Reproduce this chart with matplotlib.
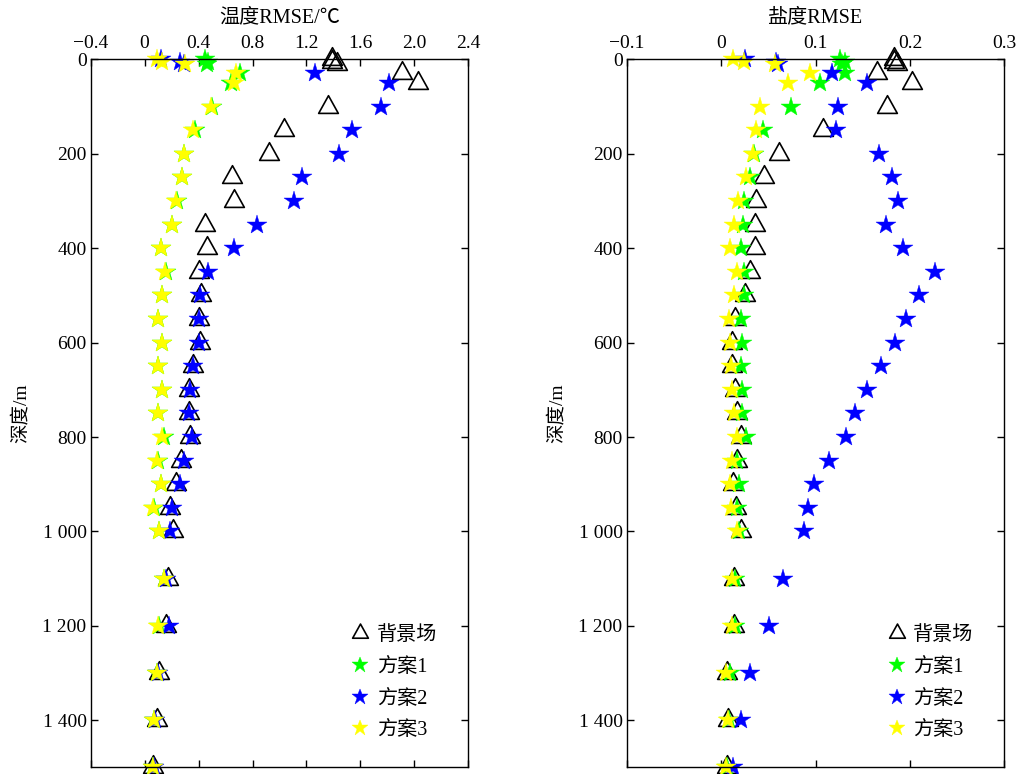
import numpy as np
import matplotlib
matplotlib.use('Agg')
import matplotlib.pyplot as plt
from matplotlib.path import Path
from matplotlib.ticker import FuncFormatter

plt.rcParams['font.family'] = ['Liberation Serif', 'Noto Sans CJK SC', 'DejaVu Sans']
plt.rcParams['axes.unicode_minus'] = True

# depth levels (m)
depth = [0, 5, 10, 30, 50, 100, 150, 200, 250, 300, 350, 400, 450, 500, 550,
         600, 650, 700, 750, 800, 850, 900, 950, 1000, 1100, 1200, 1300, 1400, 1500]

# temperature RMSE
t_bg = [1.39, 1.39, 1.43, 1.91, 2.03, 1.36, 1.03, 0.92, 0.65, 0.66, 0.45, 0.46, 0.40, 0.42, 0.40,
        0.41, 0.36, 0.33, 0.33, 0.34, 0.27, 0.23, 0.19, 0.21, 0.17, 0.16, 0.11, 0.09, 0.06]
t_s1 = [0.45, 0.47, 0.46, 0.71, 0.64, 0.50, 0.37, 0.29, 0.28, 0.24, 0.20, 0.12, 0.16, 0.13, 0.10,
        0.13, 0.10, 0.13, 0.10, 0.14, 0.10, 0.12, 0.07, 0.11, 0.14, 0.11, 0.09, 0.07, 0.06]
t_s2 = [0.12, 0.26, 0.29, 1.26, 1.81, 1.75, 1.54, 1.44, 1.17, 1.11, 0.83, 0.66, 0.47, 0.41, 0.40,
        0.40, 0.36, 0.34, 0.33, 0.35, 0.29, 0.26, 0.20, 0.19, 0.16, 0.18, 0.10, 0.08, 0.07]
t_s3 = [0.09, 0.13, 0.30, 0.68, 0.66, 0.49, 0.36, 0.29, 0.28, 0.23, 0.20, 0.12, 0.15, 0.13, 0.10,
        0.13, 0.10, 0.13, 0.10, 0.13, 0.09, 0.12, 0.06, 0.11, 0.14, 0.10, 0.09, 0.07, 0.06]

# salinity RMSE
s_bg = [0.183, 0.183, 0.186, 0.165, 0.202, 0.176, 0.108, 0.061, 0.045, 0.037, 0.036, 0.036, 0.031, 0.025, 0.015,
        0.012, 0.012, 0.015, 0.017, 0.021, 0.017, 0.013, 0.016, 0.021, 0.014, 0.014, 0.006, 0.007, 0.006]
s_s1 = [0.126, 0.131, 0.128, 0.131, 0.105, 0.074, 0.044, 0.035, 0.031, 0.024, 0.023, 0.021, 0.024, 0.024, 0.021,
        0.022, 0.021, 0.022, 0.022, 0.026, 0.017, 0.019, 0.017, 0.019, 0.015, 0.015, 0.009, 0.008, 0.006]
s_s2 = [0.025, 0.058, 0.060, 0.117, 0.154, 0.124, 0.122, 0.167, 0.181, 0.187, 0.175, 0.193, 0.226, 0.209, 0.196,
        0.184, 0.169, 0.154, 0.142, 0.132, 0.114, 0.098, 0.092, 0.088, 0.066, 0.051, 0.031, 0.021, 0.013]
s_s3 = [0.013, 0.024, 0.057, 0.094, 0.071, 0.041, 0.037, 0.034, 0.026, 0.018, 0.014, 0.009, 0.017, 0.014, 0.008,
        0.009, 0.010, 0.012, 0.014, 0.017, 0.011, 0.009, 0.010, 0.017, 0.011, 0.012, 0.005, 0.007, 0.005]

labels = ['背景场', '方案1', '方案2', '方案3']

# open triangle centred on its centroid
tri = Path([(0, 12), (-10, -6), (10, -6), (0, 12)], closed=True)


def depth_fmt(v, pos):
    v = int(round(v))
    if v >= 1000:
        return f'{v // 1000} {v % 1000:03d}'
    return str(v)


def num_fmt(x):
    s = f'{x:.1f}'
    if s in ('0.0', '-0.0'):
        return '0'
    return s.replace('-', '\u2212')


def draw(ax, bg, s1, s2, s3, xlim, xticks, title):
    ax.plot(bg, depth, ls='none', marker=tri, ms=17, mfc='none', mec='k', mew=1.2,
            clip_on=False, label=labels[0])
    for vals, c, lab in [(s1, '#00ff00', labels[1]), (s2, '#0000ff', labels[2]),
                         (s3, '#ffff00', labels[3])]:
        ax.plot(vals, depth, ls='none', marker='*', ms=15, color=c, mec=c, mew=0.3,
                clip_on=False, label=lab)
    ax.set_xlim(xlim)
    ax.set_ylim(1500, 0)
    ax.set_xticks(xticks)
    ax.set_xticklabels([num_fmt(x) for x in xticks])
    ax.set_yticks(np.arange(0, 1401, 200))
    ax.yaxis.set_major_formatter(FuncFormatter(depth_fmt))
    ax.tick_params(direction='in', length=5, width=1, top=True, bottom=True, left=True,
                   right=True, labeltop=True, labelbottom=False, labelsize=14, pad=3)
    ax.tick_params(axis='x', pad=5.5)
    for sp in ax.spines.values():
        sp.set_linewidth(1.0)
    ax.set_title(title, fontsize=14.5, pad=9)
    ax.set_ylabel('深度/m', fontsize=14, labelpad=9)
    ax.legend(loc='lower right', bbox_to_anchor=(0.965, 0.013), frameon=False, fontsize=14.5,
              handlelength=1.0, handletextpad=0.3, labelspacing=0.62, markerscale=0.8)


fig = plt.figure(figsize=(10.2, 7.74), dpi=100)
ax1 = fig.add_axes([0.0889, 0.0084, 0.3702, 0.9150])
ax2 = fig.add_axes([0.6144, 0.0084, 0.3704, 0.9150])

draw(ax1, t_bg, t_s1, t_s2, t_s3, (-0.4, 2.4), np.arange(-0.4, 2.41, 0.4), '温度RMSE/℃')
draw(ax2, s_bg, s_s1, s_s2, s_s3, (-0.1, 0.3), np.arange(-0.1, 0.31, 0.1), '盐度RMSE')

fig.savefig('out.png', dpi=100)
